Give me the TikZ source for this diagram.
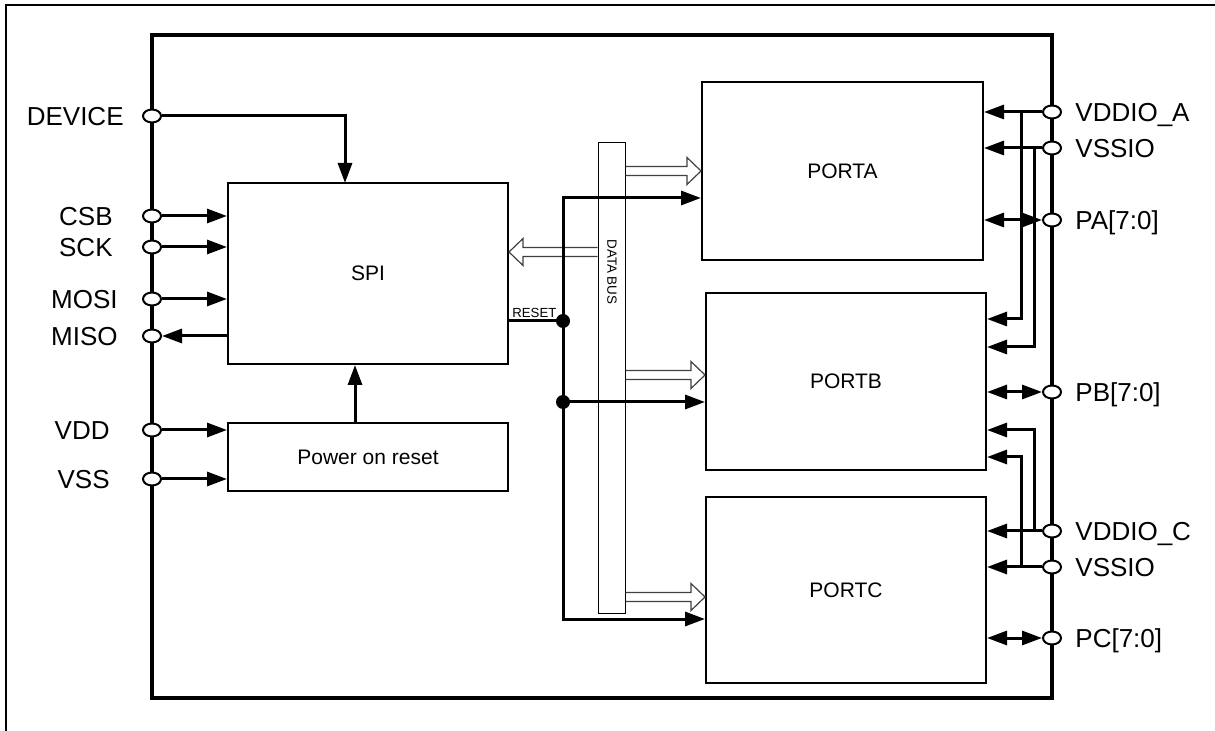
\documentclass[tikz,border=0pt]{standalone}
\usepackage{fontspec}
\setmainfont{Liberation Sans}
\usetikzlibrary{arrows.meta,shapes.geometric,calc}
\newcommand\busarrow[3]{%
  \draw[hollow] let \p1=#1, \p2=#2 in
    (\x1,{\y1+2.25pt}) -- ({\x2+(#3)},{\y1+2.25pt}) -- ({\x2+(#3)},{\y1+6.75pt})
    -- (\x2,\y1) -- ({\x2+(#3)},{\y1-6.75pt}) -- ({\x2+(#3)},{\y1-2.25pt}) -- (\x1,{\y1-2.25pt});}
\begin{document}
\begin{tikzpicture}[x=0.5pt,y=-0.5pt,
  box/.style={draw,line width=1pt,inner sep=0pt,font=\fontsize{10.5}{12}\selectfont},
  pinnode/.style={draw,ellipse,line width=1pt,fill=white,minimum width=9pt,minimum height=6.5pt,inner sep=0pt},
  lblL/.style={inner sep=0pt,anchor=base east,font=\fontsize{13}{15}\selectfont},
  lblR/.style={inner sep=0pt,anchor=base west,font=\fontsize{13}{15}\selectfont},
  sig/.style={line width=1.5pt},
  arr/.style={-{Triangle[length=10pt,width=7pt]}},
  barr/.style={{Triangle[length=10pt,width=7pt]}-{Triangle[length=10pt,width=7pt]}},
  hollow/.style={line width=0.6pt,draw=black!75},
  dotnode/.style={circle,fill=black,inner sep=0pt,minimum size=7pt}
]
\useasboundingbox (0,0) rectangle (1215,731);
\draw[line width=1.3pt] (6,731) -- (6,5) -- (1215,5);
\node[draw,line width=2pt,minimum width=450pt,minimum height=331.5pt] (chip) at (602,366.5) {};

% blocks
\node[box,minimum width=140pt,minimum height=90.5pt] (spi) at (368,273.5) {SPI};
\node[box,minimum width=140pt,minimum height=34pt] (por) at (368,457) {Power on reset};
\node[box,minimum width=140.5pt,minimum height=89pt] (porta) at (842.5,171) {PORTA};
\node[box,minimum width=140pt,minimum height=88.5pt] (portb) at (846,381.5) {PORTB};
\node[box,minimum width=140pt,minimum height=93pt] (portc) at (846,590) {PORTC};
\node[draw,line width=0.5pt,minimum width=13.5pt,minimum height=235pt,inner sep=0pt] (bus) at (611.5,378) {};
\node[rotate=-90,font=\fontsize{6.7}{8}\selectfont,inner sep=0pt] (buslbl) at (612,272) {DATA BUS};

% left pins
\node[pinnode] (dev) at (152,116) {};
\node[pinnode] (csb) at (152,216) {};
\node[pinnode] (sck) at (152,247) {};
\node[pinnode] (mosi) at (152,299) {};
\node[pinnode] (miso) at (152,336) {};
\node[pinnode] (vdd) at (152,430) {};
\node[pinnode] (vss) at (152,479) {};
\node[lblL] (devl) at (124,125.3) {DEVICE};
\node[lblL] (csbl) at (113,225.3) {CSB};
\node[lblL] (sckl) at (113,256.3) {SCK};
\node[lblL] (mosil) at (118,308.3) {MOSI};
\node[lblL] (misol) at (118,345.3) {MISO};
\node[lblL] (vddl) at (110,439.3) {VDD};
\node[lblL] (vssl) at (110,488.3) {VSS};

% right pins
\node[pinnode] (vdda) at (1052,112) {};
\node[pinnode] (vssa) at (1052,148) {};
\node[pinnode] (pa) at (1052,220) {};
\node[pinnode] (pb) at (1052,392) {};
\node[pinnode] (vddc) at (1052,531) {};
\node[pinnode] (vssc) at (1052,567) {};
\node[pinnode] (pc) at (1052,638) {};
\node[lblR] (vddal) at (1075,121.3) {VDDIO\_A};
\node[lblR] (vssal) at (1075,157.3) {VSSIO};
\node[lblR] (pal) at (1075,229.3) {PA[7:0]};
\node[lblR] (pbl) at (1075,401.3) {PB[7:0]};
\node[lblR] (vddcl) at (1075,540.3) {VDDIO\_C};
\node[lblR] (vsscl) at (1075,576.3) {VSSIO};
\node[lblR] (pcl) at (1075,647.3) {PC[7:0]};

% left connectors
\coordinate (devin) at (345,183);
\draw[sig,arr] (dev) -| (devin);
\draw[sig,arr] (csb) -- (csb -| spi.west);
\draw[sig,arr] (sck) -- (sck -| spi.west);
\draw[sig,arr] (mosi) -- (mosi -| spi.west);
\draw[sig,arr] (miso -| spi.west) -- (miso);
\draw[sig,arr] (vdd) -- (vdd -| por.west);
\draw[sig,arr] (vss) -- (vss -| por.west);
\draw[sig,arr] ($(por.north)+(-13,0)$) -- ($(spi.south)+(-13,0)$);

% data bus arrows
\coordinate (ya) at (0,171);
\coordinate (ys) at (0,252);
\coordinate (yb) at (0,375);
\coordinate (yc) at (0,597);
\busarrow{(bus.east |- ya)}{(porta.west |- ya)}{-7pt}
\busarrow{(bus.west |- ys)}{(spi.east |- ys)}{7pt}
\busarrow{(bus.east |- yb)}{(portb.west |- yb)}{-7pt}
\busarrow{(bus.east |- yc)}{(portc.west |- yc)}{-7pt}

% reset
\coordinate (rst) at (563,321);
\coordinate (rtop) at (563,198);
\coordinate (rmid) at (563,402);
\coordinate (rbot) at (563,619);
\draw[sig] (spi.east |- rst) -- (rst);
\draw[sig,arr] (rst) |- (porta.west |- rtop);
\draw[sig,arr] (rst) |- (portc.west |- rbot);
\draw[sig,arr] (rmid) -- (portb.west |- rmid);
\node[dotnode] (rstdot) at (rst) {};
\node[dotnode] (middot) at (rmid) {};
\node[anchor=south west,inner sep=0.5pt,font=\fontsize{6.6}{8}\selectfont] (rstlbl) at (511,319) {RESET};

% right connectors
\coordinate (ja) at (1021,112);
\coordinate (jb) at (1034,148);
\coordinate (jc) at (1034,531);
\coordinate (jd) at (1021,567);
\coordinate (b1) at (0,319);
\coordinate (b2) at (0,347);
\coordinate (b3) at (0,430);
\coordinate (b4) at (0,457);
\draw[sig,arr] (vdda) -- (vdda -| porta.east);
\draw[sig,arr] (vssa) -- (vssa -| porta.east);
\draw[sig,barr] (porta.east |- pa) -- (pa);
\draw[sig,arr] (ja) |- (portb.east |- b1);
\draw[sig,arr] (jb) |- (portb.east |- b2);
\draw[sig,arr] (jc) |- (portb.east |- b3);
\draw[sig,arr] (jd) |- (portb.east |- b4);
\draw[sig,barr] (portb.east |- pb) -- (pb);
\draw[sig,arr] (vddc) -- (vddc -| portc.east);
\draw[sig,arr] (vssc) -- (vssc -| portc.east);
\draw[sig,barr] (portc.east |- pc) -- (pc);
\end{tikzpicture}
\end{document}
